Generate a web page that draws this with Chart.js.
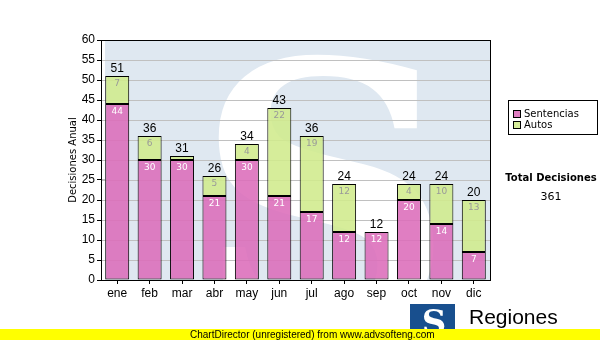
<!DOCTYPE html>
<html>
<head>
<meta charset="utf-8">
<script src="https://cdn.jsdelivr.net/npm/chart.js@4"></script>
<style>
  html, body { margin: 0; padding: 0; background: #fff; }
  #wrap { width: 600px; height: 340px; position: relative; }
</style>
</head>
<body>
<div id="wrap"><canvas id="myChart" width="600" height="340"></canvas></div>
<script>
'use strict';

// Data
let months = ['ene', 'feb', 'mar', 'abr', 'may', 'jun', 'jul', 'ago', 'sep', 'oct', 'nov', 'dic'];
let sentencias = [44, 30, 30, 21, 30, 21, 17, 12, 12, 20, 14, 7];
let autos = [7, 6, 1, 5, 4, 22, 19, 12, 0, 4, 10, 13];
let seriesNames = ['Sentencias', 'Autos'];
let totalLabel = 'Total Decisiones';
let yTitle = 'Decisiones Anual';

let pink = 'rgba(220, 108, 186, 0.88)';
let green = 'rgba(208, 234, 140, 0.88)';

// light blue background with a big white "S" behind the bars
let watermark = {
  id: 'watermark',
  beforeDatasetsDraw(chart) {
    let ctx = chart.ctx;
    let a = chart.chartArea;
    ctx.save();
    ctx.beginPath();
    ctx.rect(a.left, a.top, a.right - a.left, a.bottom - a.top);
    ctx.clip();
    ctx.fillStyle = '#dfe8f1';
    ctx.fillRect(a.left + 4, a.top, a.right - a.left - 4, a.bottom - a.top);
    ctx.fillStyle = '#ffffff';
    ctx.font = 'bold 360px "DejaVu Serif"';
    ctx.textAlign = 'center';
    ctx.textBaseline = 'alphabetic';
    ctx.fillText('S', 325, 322);
    ctx.restore();
    // redraw horizontal grid lines over the watermark
    ctx.save();
    ctx.strokeStyle = '#c0c0c0';
    ctx.lineWidth = 1;
    let y = chart.scales.y;
    y.ticks.forEach(t => {
      let py = Math.round(y.getPixelForValue(t.value)) + 0.5;
      if (t.value === 0) return;
      ctx.beginPath();
      ctx.moveTo(a.left, py);
      ctx.lineTo(a.right, py);
      ctx.stroke();
    });
    ctx.restore();
  }
};

// values inside segments and totals on top
let barLabels = {
  id: 'barLabels',
  afterDatasetsDraw(chart) {
    let ctx = chart.ctx;
    ctx.save();
    ctx.textAlign = 'center';
    chart.data.datasets.forEach((ds, di) => {
      let meta = chart.getDatasetMeta(di);
      meta.data.forEach((bar, i) => {
        let v = ds.data[i];
        if (v < 3) return;
        ctx.font = '9px Verdana, "DejaVu Sans"';
        ctx.fillStyle = di === 0 ? '#ffffff' : '#999999';
        ctx.textBaseline = 'top';
        ctx.fillText(v, bar.x, bar.y + 3);
      });
    });
    let top = chart.getDatasetMeta(1);
    top.data.forEach((bar, i) => {
      let total = sentencias[i] + autos[i];
      ctx.font = '12px Arial, "Liberation Sans"';
      ctx.fillStyle = '#000';
      ctx.textBaseline = 'bottom';
      ctx.fillText(total, bar.x, chart.scales.y.getPixelForValue(total) - 1);
    });
    // plot frame
    let a = chart.chartArea;
    ctx.strokeStyle = '#000';
    ctx.lineWidth = 1;
    ctx.strokeRect(Math.round(a.left) + 0.5, Math.round(a.top) + 0.5, Math.round(a.right - a.left), Math.round(a.bottom - a.top));
    ctx.restore();
  }
};

// y title, legend box, total, logo and footer bar
let extras = {
  id: 'extras',
  afterDraw(chart) {
    let ctx = chart.ctx;
    ctx.save();
    // y title
    ctx.save();
    ctx.translate(73, 160);
    ctx.rotate(-Math.PI / 2);
    ctx.fillStyle = '#000';
    ctx.font = '10px Verdana, "DejaVu Sans"';
    ctx.textAlign = 'center';
    ctx.textBaseline = 'middle';
    ctx.fillText(yTitle, 0, 0);
    ctx.restore();
    // legend
    ctx.strokeStyle = '#000';
    ctx.lineWidth = 1;
    ctx.strokeRect(508.5, 100.5, 89, 34);
    let colors = [pink, green];
    ctx.font = '10px Verdana, "DejaVu Sans"';
    ctx.textBaseline = 'middle';
    ctx.textAlign = 'left';
    seriesNames.forEach((name, i) => {
      let y = 114 + i * 11;
      ctx.fillStyle = colors[i];
      ctx.fillRect(513, y - 4, 8, 8);
      ctx.strokeRect(513.5, y - 3.5, 7, 7);
      ctx.fillStyle = '#000';
      ctx.fillText(name, 524, y);
    });
    // total
    let total = 0;
    for (let i = 0; i < sentencias.length; i++) total += sentencias[i] + autos[i];
    ctx.textAlign = 'center';
    ctx.font = 'bold 10px Verdana, "DejaVu Sans"';
    ctx.fillText(totalLabel, 551, 178);
    ctx.font = '11px Verdana, "DejaVu Sans"';
    ctx.fillText(total, 551, 197);
    // logo
    ctx.fillStyle = '#184f8e';
    ctx.fillRect(410, 304, 45, 30);
    ctx.fillStyle = '#fff';
    ctx.font = 'bold 34px "DejaVu Serif"';
    ctx.textBaseline = 'alphabetic';
    ctx.fillText('S', 434, 334);
    ctx.fillStyle = '#000';
    ctx.textAlign = 'left';
    ctx.font = '21px Arial, "Liberation Sans"';
    ctx.fillText('Regiones', 469, 324);
    ctx.font = 'bold 8px Arial, "Liberation Sans"';
    ctx.fillText('Tribunal Supremo de Justicia', 469, 336);
    // footer
    ctx.fillStyle = '#ffff00';
    ctx.fillRect(0, 329, 600, 11);
    ctx.fillStyle = '#000';
    ctx.font = '10px Arial, "Liberation Sans"';
    ctx.textBaseline = 'middle';
    ctx.fillText('ChartDirector (unregistered) from www.advsofteng.com', 190, 335);
    ctx.restore();
  }
};

let ctx = document.getElementById('myChart').getContext('2d');
let myChart = new Chart(ctx, { // eslint-disable-line
  type: 'bar',
  data: {
    labels: months,
    datasets: [{
      label: seriesNames[0],
      data: sentencias,
      backgroundColor: pink,
      borderColor: '#000',
      borderWidth: 1,
      borderSkipped: false
    },
    {
      label: seriesNames[1],
      data: autos,
      backgroundColor: green,
      borderColor: '#000',
      borderWidth: 1,
      borderSkipped: false
    }]
  },
  options: {
    responsive: false,
    animation: false,
    devicePixelRatio: 1,
    layout: { padding: { left: 0, right: 110, top: 40, bottom: 40 } },
    datasets: { bar: { categoryPercentage: 1, barPercentage: 0.74 } },
    plugins: { legend: { display: false }, tooltip: { enabled: false } },
    scales: {
      x: {
        stacked: true,
        grid: { display: true, offset: false, drawOnChartArea: false, drawTicks: true, tickLength: 4, tickColor: '#000' },
        border: { color: '#000', width: 1 },
        ticks: { color: '#000', font: { family: 'Arial, "Liberation Sans"', size: 12 }, padding: 2 },
        afterFit: s => { s.height = 20; }
      },
      y: {
        stacked: true,
        min: 0,
        max: 60,
        grid: { color: '#c0c0c0', tickLength: 4, tickColor: '#000', drawOnChartArea: true },
        border: { color: '#000', width: 1 },
        ticks: { stepSize: 5, color: '#000', font: { family: 'Arial, "Liberation Sans"', size: 12 }, padding: 2 },
        afterFit: s => { s.width = 101; }
      }
    }
  },
  plugins: [watermark, barLabels, extras]
});
</script>
</body>
</html>
